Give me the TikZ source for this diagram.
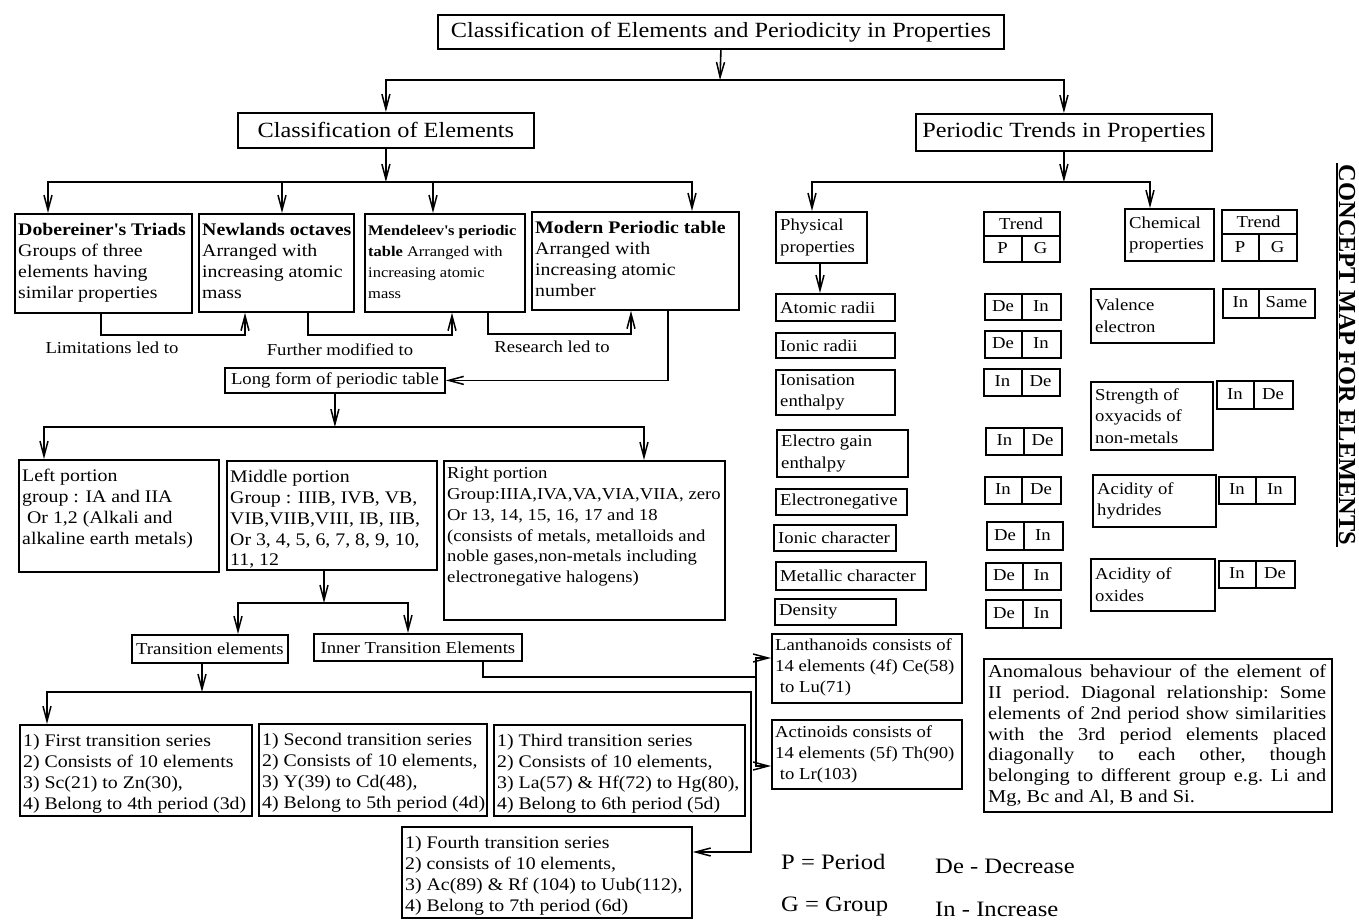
\documentclass[tikz,border=0pt]{standalone}
\usepackage{fontspec}
\setmainfont{Liberation Serif}[FakeStretch=1.12]
\newfontfamily\plainserif{Liberation Serif}
\usetikzlibrary{arrows.meta}
\newcommand\myhead{\fontsize{21.7}{24}\selectfont}
\newcommand\mybody{\fontsize{17.7}{20.8}\selectfont}
\newcommand\mysmall{\fontsize{16.7}{20.8}\selectfont}
\newcommand\myright{\fontsize{16.7}{21.5}\selectfont}
\newcommand\mymen{\fontsize{14.7}{20.8}\selectfont}
\newcommand\myleg{\fontsize{22}{24}\selectfont}
\newcommand\myanom{\fontsize{18.2}{20.8}\selectfont}
\tikzset{
 bxs/.style={draw, line width=1.8pt, inner sep=0pt, anchor=north west},
 ln/.style={line width=1.6pt},
 dl/.style={line width=1.5pt},
 arr/.style={line width=1.6pt, -{Straight Barb[length=15pt,width=8pt,line width=1.5pt]}},
}
% top-aligned text box
\newcommand\tbox[8][8]{%
 \pgfmathsetmacro\bw{#6-#4}\pgfmathsetmacro\bh{#7-#5}%
 \node[bxs,minimum width=\bw pt,minimum height=\bh pt] (#3) at (#4,#5) {};%
 \node[anchor=north west,inner sep=0pt,align=left,font=#2] (#3t) at ([xshift=4pt,yshift=-#1pt]#3.north west) {\strut#8};%
}
% vertically centred, left aligned text box
\newcommand\rbox[7]{%
 \pgfmathsetmacro\bw{#5-#3}\pgfmathsetmacro\bh{#6-#4}%
 \node[bxs,minimum width=\bw pt,minimum height=\bh pt] (#2) at (#3,#4) {};%
 \node[anchor=west,inner sep=0pt,align=left,font=#1] (#2t) at ([xshift=5pt]#2.west) {#7};%
}
% two-cell trend box
\newcommand\pv[8]{%
 \pgfmathsetmacro\bw{#4-#2}\pgfmathsetmacro\bh{#5-#3}%
 \node[bxs,minimum width=\bw pt,minimum height=\bh pt] (#1) at (#2,#3) {};%
 \draw[dl] (#1.north -| #6,0) -- (#1.south -| #6,0);%
 \node[font=\myright,inner sep=0pt] (#1l) at ({(#2+#6)/2},{(#3+#5)/2}) {#7};%
 \node[font=\myright,inner sep=0pt] (#1r) at ({(#6+#4)/2},{(#3+#5)/2}) {#8};%
}
% Trend header box
\newcommand\trd[7]{%
 \pgfmathsetmacro\bw{#4-#2}\pgfmathsetmacro\bh{#5-#3}%
 \node[bxs,minimum width=\bw pt,minimum height=\bh pt] (#1) at (#2,#3) {};%
 \draw[dl] (#1.west |- 0,#6) -- (#1.east |- 0,#6);%
 \draw[dl] (#7,#6) -- (#1.south -| #7,0);%
 \node[font=\myright,inner sep=0pt] (#1a) at ({(#2+#4)/2},{(#3+#6)/2}) {Trend};%
 \node[font=\myright,inner sep=0pt] (#1p) at ({(#2+#7)/2},{(#6+#5)/2}) {P};%
 \node[font=\myright,inner sep=0pt] (#1g) at ({(#7+#4)/2},{(#6+#5)/2}) {G};%
}
\begin{document}
\begin{tikzpicture}[x=1pt,y=-1pt]
\fill[white] (0,0) rectangle (1359,919);
\useasboundingbox (0,0) rectangle (1359,919);

% headings
\node[bxs,minimum width=566pt,minimum height=34pt,font=\myhead] (title) at (437,14) {Classification of Elements and Periodicity in Properties};
\node[bxs,minimum width=296pt,minimum height=35pt,font=\myhead] (cls) at (237,112) {Classification of Elements};
\node[bxs,minimum width=296pt,minimum height=37pt,font=\myhead] (ptr) at (915,113) {Periodic Trends in Properties};

\coordinate (j1) at (720,80);
\draw[arr] (title.south) -- (j1);
\draw[arr] (j1) -| (cls.north);
\draw[arr] (j1) -| (ptr.north);

% classification row
\tbox{\mybody}{dob}{14}{213}{191}{312}{\textbf{Dobereiner\textquotesingle s Triads}\\Groups of three\\elements having\\similar properties}
\tbox{\mybody}{new}{198}{213}{353}{311}{\textbf{Newlands octaves}\\Arranged with\\increasing atomic\\mass}
\tbox{\mymen}{men}{364}{213}{524}{311}{\textbf{Mendeleev\textquotesingle s periodic}\\\textbf{table} Arranged with\\increasing atomic\\mass}
\tbox{\mybody}{mod}{531}{211}{738}{309}{\textbf{Modern Periodic table}\\Arranged with\\increasing atomic\\number}

\coordinate (j2) at (cls.south |- 0,182);
\draw[arr] (cls.south) -- (j2);
\draw[arr] (j2) -| (dob.north -| 48,0);
\draw[arr] (j2) -| (new.north -| 282,0);
\draw[arr] (j2) -| (men.north -| 433,0);
\draw[arr] (j2) -| (mod.north -| 692,0);

\draw[arr] (dob.south -| 101,0) -- (101,335) -| (new.south -| 245,0);
\draw[arr] (new.south -| 308,0) -- (308,335) -| (men.south -| 452,0);
\draw[arr] (men.south -| 488,0) -- (488,334) -| (mod.south -| 631,0);
\node[font=\mysmall] (lab1) at (112,348) {Limitations led to};
\node[font=\mysmall] (lab2) at (340,350) {Further modified to};
\node[font=\mysmall] (lab3) at (552,347) {Research led to};

\node[bxs,minimum width=220pt,minimum height=25pt,font=\mysmall] (lf) at (224,367) {Long form of periodic table};
\draw[arr] (mod.south -| 668,0) |- (lf.east);

\tbox{\mybody}{lp}{18}{459}{218}{571}{Left portion\\group : IA and IIA\\\ Or 1,2 (Alkali and\\alkaline earth metals)}
\tbox{\mybody}{mp}{226}{460}{436}{569}{Middle portion\\Group : IIIB, IVB, VB,\\VIB,VIIB,VIII, IB, IIB,\\Or 3, 4, 5, 6, 7, 8, 9, 10,\\11, 12}
\tbox[4]{\mysmall}{rp}{443}{460}{724}{619}{Right portion\\Group:IIIA,IVA,VA,VIA,VIIA, zero\\Or 13, 14, 15, 16, 17 and 18\\(consists of metals, metalloids and\\noble gases,non-metals including\\electronegative halogens)}

\coordinate (j3) at (lf.south |- 0,427);
\draw[arr] (lf.south) -- (j3);
\draw[arr] (j3) -| (lp.north -| 44,0);
\draw[arr] (j3) -| (rp.north -| 644,0);

\coordinate (j4) at (324,603);
\draw[arr] (mp.south -| 324,0) -- (j4);
\node[bxs,minimum width=156pt,minimum height=28pt,font=\mysmall] (te) at (131,634) {Transition elements};
\node[bxs,minimum width=208pt,minimum height=27pt,font=\mysmall] (ite) at (313,633) {Inner Transition Elements};
\draw[arr] (j4) -| (te.north -| 238,0);
\draw[arr] (j4) -| (ite.north -| 408,0);

% transition series
\tbox{\mybody}{fa}{19}{724}{251}{815}{1) First transition series\\2) Consists of 10 elements\\3) Sc(21) to Zn(30),\\4) Belong to 4th period (3d)}
\tbox{\mybody}{fb}{258}{723}{486}{815}{1) Second transition series\\2) Consists of 10 elements,\\3) Y(39) to Cd(48),\\4) Belong to 5th period (4d)}
\tbox{\mybody}{fc}{493}{724}{744}{815}{1) Third transition series\\2) Consists of 10 elements,\\3) La(57) \& Hf(72) to Hg(80),\\4) Belong to 6th period (5d)}
\tbox{\mybody}{fd}{401}{826}{691}{917}{1) Fourth transition series\\2) consists of 10 elements,\\3) Ac(89) \& Rf (104) to Uub(112),\\4) Belong to 7th period (6d)}

\coordinate (j5) at (202,692);
\draw[arr] (te.south -| 202,0) -- (j5);
\draw[arr] (j5) -| (fa.north -| 47,0);
\draw[arr] (j5) -- (751,692) |- (fd.east |- 0,852);

% inner transition
\tbox[3]{\mysmall}{lan}{771}{633}{961}{702}{Lanthanoids consists of\\14 elements (4f) Ce(58)\\\ to Lu(71)}
\tbox[4]{\mysmall}{act}{771}{719}{961}{788}{Actinoids consists of\\14 elements (5f) Th(90)\\\ to Lr(103)}
\coordinate (j6) at (756,677);
\draw[ln] (ite.south -| 483,0) |- (j6);
\draw[arr] (j6) |- (lan.west |- 0,658);
\draw[arr] (j6) |- (act.west |- 0,766);

% periodic trends
\coordinate (j7) at (ptr.south |- 0,182);
\draw[arr] (ptr.south) -- (j7);
\rbox{\myright}{phy}{775}{211}{866}{262}{Physical\\properties}
\rbox{\myright}{chem}{1124}{208}{1213}{260}{Chemical\\properties}
\draw[arr] (j7) -| (phy.north -| 812,0);
\draw[arr] (j7) -| (chem.north -| 1150,0);
\trd{trA}{983}{211}{1059}{261}{236}{1022}
\trd{trB}{1221}{209}{1296}{260}{234}{1259}

\rbox{\myright}{ar}{775}{293}{894}{320}{Atomic radii}
\draw[arr] (phy.south -| 820,0) -- (ar.north -| 820,0);
\rbox{\myright}{ir}{775}{332}{894}{357}{Ionic radii}
\rbox{\myright}{ion}{775}{369}{894}{414}{Ionisation\\enthalpy}
\rbox{\myright}{eg}{776}{429}{907}{476}{Electro gain\\enthalpy}
\rbox{\myright}{en}{775}{488}{906}{514}{Electronegative}
\rbox{\myright}{ic}{773}{524}{895}{550}{Ionic character}
\rbox{\myright}{mc}{775}{561}{925}{589}{Metallic character}
\rbox{\myright}{den}{774}{598}{895}{624}{Density}

\pv{pva}{984}{293}{1060}{319}{1022}{De}{In}
\pv{pvb}{984}{330}{1060}{357}{1022}{De}{In}
\pv{pvc}{983}{368}{1059}{395}{1022}{In}{De}
\pv{pvd}{985}{427}{1061}{454}{1024}{In}{De}
\pv{pve}{984}{476}{1060}{503}{1022}{In}{De}
\pv{pvf}{986}{521}{1062}{549}{1024}{De}{In}
\pv{pvg}{985}{562}{1060}{589}{1023}{De}{In}
\pv{pvh}{985}{599}{1060}{627}{1023}{De}{In}

\rbox{\myright}{val}{1090}{288}{1213}{342}{Valence\\electron}
\rbox{\myright}{str}{1090}{381}{1212}{449}{Strength of\\oxyacids of\\non-metals}
\rbox{\myright}{ah}{1092}{474}{1215}{526}{Acidity of\\hydrides}
\rbox{\myright}{ao}{1090}{558}{1214}{610}{Acidity of\\oxides}
\pv{cva}{1222}{288}{1314}{317}{1259}{In}{Same}
\pv{cvb}{1216}{380}{1292}{408}{1254}{In}{De}
\pv{cvc}{1218}{476}{1294}{503}{1256}{In}{In}
\pv{cvd}{1218}{560}{1294}{587}{1256}{In}{De}

% anomalous
\node[bxs,minimum width=348pt,minimum height=153pt] (anom) at (983,658) {};
\node[anchor=north west,inner sep=0pt,text width=338pt,align=justify,font=\myanom] (anomt) at ([xshift=5pt,yshift=-5pt]anom.north west) {\frenchspacing\hyphenpenalty=10000\strut Anomalous behaviour of the element of\linebreak II period. Diagonal relationship: Some\linebreak elements of 2nd period show similarities\linebreak with the 3rd period elements placed\linebreak diagonally to each other, though\linebreak belonging to different group e.g. Li and\linebreak Mg, Bc and Al, B and Si.};

% legend
\node[anchor=west,font=\myleg,inner sep=0pt] (legp) at (781,862) {P = Period};
\node[anchor=west,font=\myleg,inner sep=0pt] (legg) at (781,907) {G = Group};
\node[anchor=west,font=\myleg,inner sep=0pt] (legd) at (935,866) {De - Decrease};
\node[anchor=west,font=\myleg,inner sep=0pt] (legi) at (935,909) {In - Increase};

% side title
\node[rotate=-90,inner sep=2pt,font=\plainserif\bfseries\fontsize{24.4}{26}\selectfont] (cmap) at (1347,355) {CONCEPT MAP FOR ELEMENTS};
\draw[line width=1.8pt] (cmap.south west) -- (cmap.south east);
\end{tikzpicture}
\end{document}
